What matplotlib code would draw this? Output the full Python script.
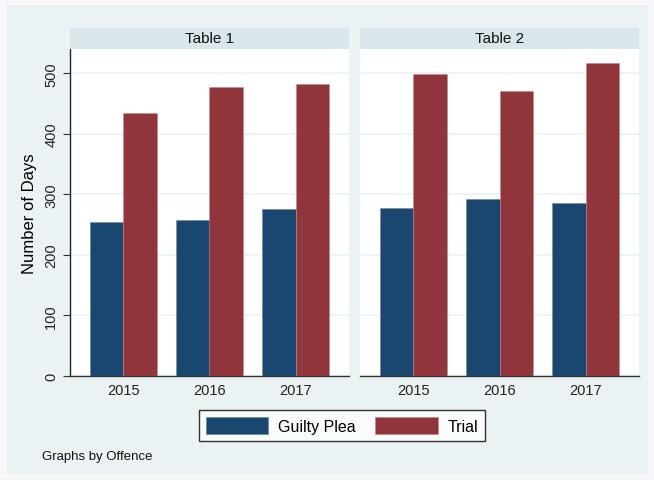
import numpy as np
import matplotlib
matplotlib.use('Agg')
import matplotlib.pyplot as plt
from matplotlib.patches import Rectangle

plt.rcParams['font.family'] = ['Liberation Sans', 'DejaVu Sans']

years = ['2015', '2016', '2017']
tables = ['Table 1', 'Table 2']
guilty_plea = [[254, 257, 276], [277, 292, 285]]
trial = [[434, 477, 483], [499, 471, 517]]

blue = '#1a476f'
red = '#90353b'
bg = '#eaf2f3'

fig = plt.figure(figsize=(6.54, 4.81), dpi=100)
fig.patch.set_facecolor('#f8f8f8')
fig.add_artist(Rectangle((6/654, 6/481), 642/654, 469/481, transform=fig.transFigure,
                         facecolor=bg, edgecolor='none', zorder=0))

x = np.arange(len(years))
w = 0.385
lefts = [70/654, 360/654]
pw = 279/654
pb = 1 - 377/481
ph = 327/481
sh = 21/481

for i in range(2):
    ax = fig.add_axes([lefts[i], pb, pw, ph])
    ax.set_facecolor('white')
    ax.bar(x - w/2, guilty_plea[i], w, color=blue, edgecolor='#6f86a0', linewidth=0.4, zorder=3)
    ax.bar(x + w/2, trial[i], w, color=red, edgecolor='#c08a8e', linewidth=0.4, zorder=3)
    ax.set_xlim(-0.62, 2.62)
    ax.set_ylim(0, 540)
    ax.set_yticks([0, 100, 200, 300, 400, 500])
    ax.yaxis.grid(True, color=bg, linewidth=1.2, zorder=0)
    ax.set_xticks(x)
    ax.set_xticklabels(years, fontsize=10.5, color='#222222')
    ax.tick_params(axis='x', length=0, pad=5)
    for s in ['top', 'right']:
        ax.spines[s].set_visible(False)
    ax.spines['bottom'].set_color('#333333')
    ax.spines['bottom'].set_linewidth(1.0)
    if i == 0:
        ax.spines['left'].set_color('#222222')
        ax.spines['left'].set_linewidth(1.0)
        ax.tick_params(axis='y', length=5, color='#333333', labelsize=10.5, labelcolor='#222222')
        for lab in ax.get_yticklabels():
            lab.set_rotation(90)
            lab.set_va('center')
        ax.set_ylabel('Number of Days', fontsize=12, labelpad=5)
    else:
        ax.spines['left'].set_visible(False)
        ax.tick_params(axis='y', length=0, labelleft=False)

    sax = fig.add_axes([lefts[i], pb + ph, pw, sh])
    sax.set_facecolor('#d9e6eb')
    sax.set_xticks([])
    sax.set_yticks([])
    for s in sax.spines.values():
        s.set_visible(False)
    sax.text(0.5, 0.5, tables[i], ha='center', va='center', fontsize=11,
             color='#111111', transform=sax.transAxes)

handles = [Rectangle((0, 0), 1, 1, facecolor=blue, edgecolor='#6f86a0', linewidth=0.5),
           Rectangle((0, 0), 1, 1, facecolor=red, edgecolor='#c08a8e', linewidth=0.5)]
leg = fig.legend(handles, ['Guilty Plea', 'Trial'], loc='center',
                 bbox_to_anchor=(342/654, 1 - 426.5/481), ncol=2, fontsize=11.5,
                 frameon=True, fancybox=False, edgecolor='black', facecolor='white',
                 handlelength=3.9, handleheight=1.2, columnspacing=1.25, handletextpad=0.6,
                 borderpad=0.45, borderaxespad=0)
leg.get_frame().set_linewidth(1.0)

fig.text(42/654, 1 - 457/481, 'Graphs by Offence', fontsize=9.5, va='center', ha='left', color='#111111')

fig.savefig('out.png', dpi=100, facecolor=fig.get_facecolor())
